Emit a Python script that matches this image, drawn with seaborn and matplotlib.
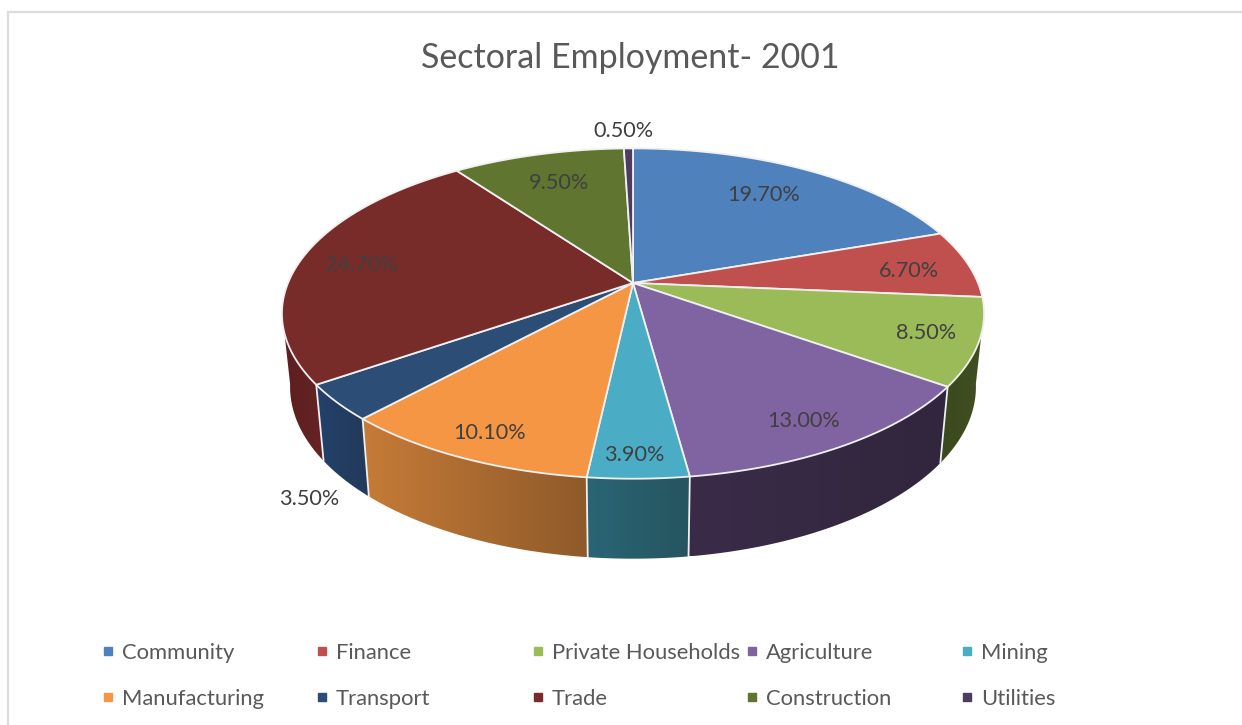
import numpy as np
import seaborn as sns
import matplotlib.pyplot as plt
from matplotlib.legend import Legend
from matplotlib.lines import Line2D
from matplotlib.patches import Polygon
from matplotlib.colors import to_rgb

# Employment share by sector, 2001 (percent)
sectors = ["Community", "Finance", "Private Households", "Agriculture", "Mining",
           "Manufacturing", "Transport", "Trade", "Construction", "Utilities"]
shares = [19.7, 6.7, 8.5, 13.0, 3.9, 10.1, 3.5, 24.7, 9.5, 0.5]

top_colors = ["#4f81bd", "#c0504d", "#9bbb59", "#8064a2", "#4bacc6",
              "#f59645", "#2c4d75", "#772c2a", "#5f7530", "#4d3b62"]
# Wall shade at the left and right end of each slice's visible side
wall_left = ["#2f4d71", "#732f2e", "#3a4a1c", "#3a2c49", "#2a6575",
             "#c67b37", "#22416a", "#5c1f1f", "#39461d", "#2e2340"]
wall_right = ["#2f4d71", "#732f2e", "#414f22", "#31263d", "#25555f",
              "#8e5a2a", "#233a5a", "#662324", "#39461d", "#2e2340"]

# Where each percentage label sits, in figure pixels
label_xy = [(764, 195), (909, 271), (926, 333), (804, 421), (634, 454.5),
            (489, 433), (309, 499), (361, 265), (559, 183), (623, 131)]

W, H = 1242, 725
CX, CY = 633.0, 283.0
F_TOP, G_TOP, K = 345.0, 159.5, 0.185
F_BASE, CY_BASE, G_BASE = 337.0, 355.0, 166.0
EDGE = "#f0f0f0"

sns.set_theme(style="white")
plt.rcParams["font.family"] = ["Lato", "DejaVu Sans"]
palette = sns.color_palette(top_colors)


def project(theta, f, cy, g):
    """Perspective view of a unit disc; theta runs clockwise from 12 o'clock."""
    u, v = np.sin(theta), np.cos(theta)
    d = 1 + K * v
    return CX + f * u / d, cy - g * v / d


def top_rim(theta):
    return project(theta, F_TOP, CY, G_TOP)


def base_rim(theta):
    return project(theta, F_BASE, CY_BASE, G_BASE)


fig = plt.figure(figsize=(W / 100, H / 100), dpi=100, facecolor="white")
ax = fig.add_axes([0, 0, 1, 1])
ax.axis("off")

# Thin chart frame along the top and left
ax.plot([8, 8, W], [H, 12, 12], color="#dcdcdc", lw=1.6, zorder=1, solid_joinstyle="miter")

edges = np.concatenate([[0], np.cumsum(shares)]) / np.sum(shares) * 2 * np.pi

# Side walls: only the part of the rim that faces the viewer, shaded left to right
for i in range(len(shares)):
    th = np.linspace(edges[i], edges[i + 1], 200)
    th = th[np.cos(th) < -K * 0.9]
    if len(th) < 2:
        continue
    xt, yt = top_rim(th)
    xb, yb = base_rim(th)
    outline = np.column_stack([np.r_[xt, xb[::-1]], np.r_[yt, yb[::-1]]])
    x0, x1 = outline[:, 0].min(), outline[:, 0].max()
    y0, y1 = outline[:, 1].min(), outline[:, 1].max()
    ramp = np.linspace(0, 1, 128)[None, :, None]
    rgb = (1 - ramp) * np.array(to_rgb(wall_left[i])) + ramp * np.array(to_rgb(wall_right[i]))
    clip = Polygon(outline, closed=True, transform=ax.transData)
    ax.imshow(rgb, extent=(x0, x1, y1, y0), aspect="auto", interpolation="bilinear",
              clip_path=clip, clip_on=True, zorder=2)

# White seams where two slices meet on the wall
for e in edges[:-1]:
    if np.cos(e) < -K * 0.9:
        xt, yt = top_rim(e)
        xb, yb = base_rim(e)
        ax.plot([xt, xb], [yt, yb], color=EDGE, lw=1.3, zorder=3)

# Top face
for i in range(len(shares)):
    th = np.linspace(edges[i], edges[i + 1], 200)
    xs, ys = top_rim(th)
    ax.fill(np.r_[CX, xs], np.r_[CY, ys], facecolor=palette[i], edgecolor=EDGE,
            linewidth=1.3, joinstyle="round", zorder=4)

# Percentage labels
for share, (lx, ly) in zip(shares, label_xy):
    ax.text(lx, ly, f"{share:.2f}%", ha="center", va="center", fontsize=15.6,
            color="#404040", zorder=5)

ax.text(630, 58, "Sectoral Employment- 2001", ha="center", va="center", fontsize=24.5,
        color="#595959", zorder=5)

ax.set_xlim(0, W)
ax.set_ylim(H, 0)

# Legend, laid out column by column in two rows
for c, x0 in enumerate([104, 318, 534, 748, 963]):
    handles = [Line2D([], [], ls="none", marker="s", ms=5.2, color=palette[k]) for k in (c, c + 5)]
    labels = [sectors[c], sectors[c + 5]]
    leg = Legend(ax, handles, labels, loc="center left", bbox_to_anchor=(x0, 676),
                 bbox_transform=ax.transData, frameon=False, fontsize=15.8, borderpad=0,
                 borderaxespad=0, handlelength=0.4, handletextpad=0.42, labelspacing=1.2,
                 labelcolor="#595959")
    ax.add_artist(leg)

fig.savefig("out.png", dpi=100, facecolor="white")
